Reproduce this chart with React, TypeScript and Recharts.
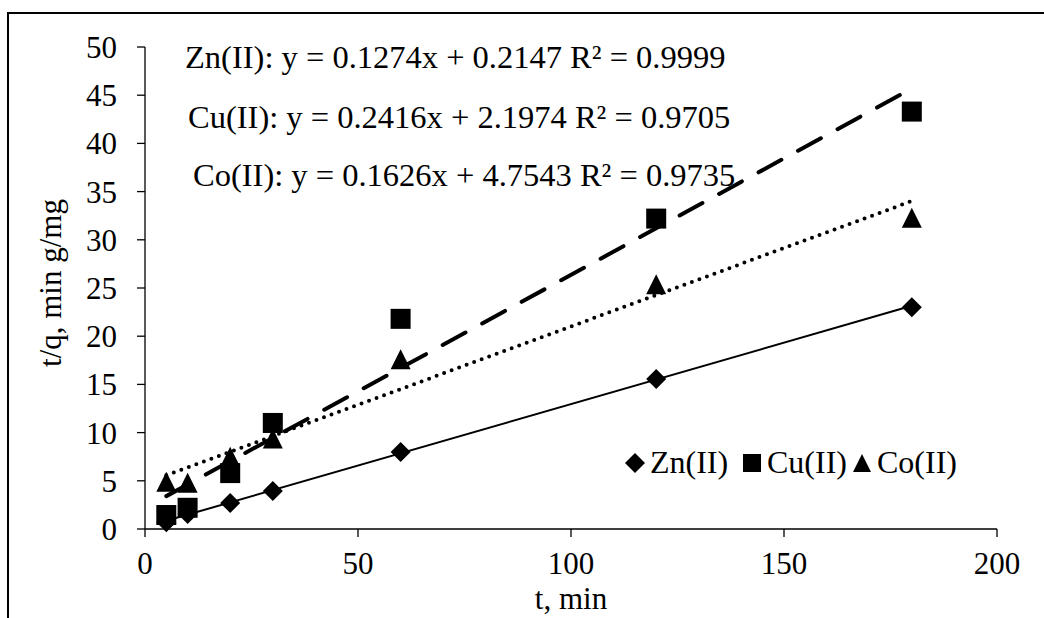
import React from 'react'
import {
  ComposedChart, Scatter, XAxis, YAxis,
} from 'recharts'

const times = [5, 10, 20, 30, 60, 120, 180]
const znValues = [0.7, 1.55, 2.7, 3.95, 8.0, 15.55, 23.0]
const cuValues = [1.45, 2.2, 5.8, 11.0, 21.8, 32.2, 43.3]
const coValues = [4.9, 4.8, 7.5, 9.4, 17.6, 25.4, 32.3]

// linear fit end points (t = 5 and t = 180)
const fitTimes = [5, 180]
const znFit = [0.85, 23.15]
const cuFit = [3.41, 45.69]
const coFit = [5.57, 34.02]

const xTicks = [0, 50, 100, 150, 200]
const yTicks = [0, 5, 10, 15, 20, 25, 30, 35, 40, 45, 50]

const seriesNames = ['Zn(II)', 'Cu(II)', 'Co(II)']
const equations = [
  'Zn(II): y = 0.1274x + 0.2147 R² = 0.9999',
  'Cu(II): y = 0.2416x + 2.1974 R² = 0.9705',
  'Co(II): y = 0.1626x + 4.7543 R² = 0.9735',
]

const toPoints = (xs: number[], ys: number[]) => xs.map((x, i) => ({ x, y: ys[i] }))

const FONT = '"Liberation Serif", "Times New Roman", serif'

const Diamond = ({ cx, cy, r = 10 }: any) => (
  <path d={`M${cx},${cy - r}L${cx + r},${cy}L${cx},${cy + r}L${cx - r},${cy}Z`} fill="#000" />
)
const Square = ({ cx, cy, r = 10 }: any) => (
  <rect x={cx - r} y={cy - r} width={r * 2} height={r * 2} fill="#000" />
)
const Triangle = ({ cx, cy, r = 10 }: any) => (
  <path d={`M${cx},${cy - r}L${cx + r},${cy + r}L${cx - r},${cy + r}Z`} fill="#000" />
)

const Nothing = () => <g />

// legend layout: marker centre / text start
const legendPos = [
  { Marker: Diamond, mx: 635, tx: 650, r: 10 },
  { Marker: Square, mx: 752, tx: 767, r: 9 },
  { Marker: Triangle, mx: 862, tx: 877, r: 9 },
]

export default function App() {
  return (
    <div style={{ position: 'fixed', left: 0, top: 0, width: 1044, height: 618, background: '#fff' }}>
      <div style={{
        position: 'absolute', left: 7, top: 12, width: 1100, height: 700,
        borderLeft: '2px solid #000', borderTop: '2px solid #000',
      }} />
      <ComposedChart width={1044} height={618} margin={{ top: 47, right: 47, bottom: 0, left: 0 }}
        style={{ position: 'absolute', left: 0, top: 0 }}>
        <XAxis
          type="number" dataKey="x" domain={[0, 200]} ticks={xTicks}
          height={89} tickSize={8} tickMargin={15}
          stroke="#000" strokeWidth={1.3}
          tick={{ fontSize: 31, fontFamily: FONT, fill: '#000' }}
          label={() => (
            <text x={571} y={609} textAnchor="middle"
              fontFamily={FONT} fontSize={31} fill="#000">t, min</text>
          )}
        />
        <YAxis
          type="number" dataKey="y" domain={[0, 50]} ticks={yTicks}
          width={145} tickSize={8} tickMargin={20}
          stroke="#000" strokeWidth={1.3}
          tick={{ fontSize: 31, fontFamily: FONT, fill: '#000' }}
          label={() => (
            <text x={61} y={283} transform="rotate(-90 61 283)" textAnchor="middle"
              fontFamily={FONT} fontSize={31} fill="#000">t/q, min g/mg</text>
          )}
        />
        <Scatter data={toPoints(fitTimes, znFit)} shape={Nothing} legendType="none"
          line={{ stroke: '#000', strokeWidth: 2 }} isAnimationActive={false} />
        <Scatter data={toPoints(fitTimes, cuFit)} shape={Nothing} legendType="none"
          line={{ stroke: '#000', strokeWidth: 4, strokeDasharray: '26 19', strokeLinecap: 'round' }}
          isAnimationActive={false} />
        <Scatter data={toPoints(fitTimes, coFit)} shape={Nothing} legendType="none"
          line={{ stroke: '#000', strokeWidth: 4, strokeDasharray: '0 8', strokeLinecap: 'round' }}
          isAnimationActive={false} />
        <Scatter name={seriesNames[0]} data={toPoints(times, znValues)}
          shape={(p: any) => <Diamond cx={p.cx} cy={p.cy} />} isAnimationActive={false} />
        <Scatter name={seriesNames[1]} data={toPoints(times, cuValues)}
          shape={(p: any) => <Square cx={p.cx} cy={p.cy} />} isAnimationActive={false} />
        <Scatter name={seriesNames[2]} data={toPoints(times, coValues)}
          shape={(p: any) => <Triangle cx={p.cx} cy={p.cy} />} isAnimationActive={false} />
      </ComposedChart>
      <svg width={1044} height={618} style={{ position: 'absolute', left: 0, top: 0, pointerEvents: 'none' }}>
        {equations.map((eq, i) => (
          <text key={eq} x={[185, 188, 193][i]} y={[68, 128, 186][i]}
            fontFamily={FONT} fontSize={32.5} fill="#000">{eq}</text>
        ))}
        {legendPos.map(({ Marker, mx, tx, r }, i) => (
          <g key={seriesNames[i]}>
            <Marker cx={mx} cy={463} r={r} />
            <text x={tx} y={473} fontFamily={FONT} fontSize={32} fill="#000">{seriesNames[i]}</text>
          </g>
        ))}
      </svg>
    </div>
  )
}
